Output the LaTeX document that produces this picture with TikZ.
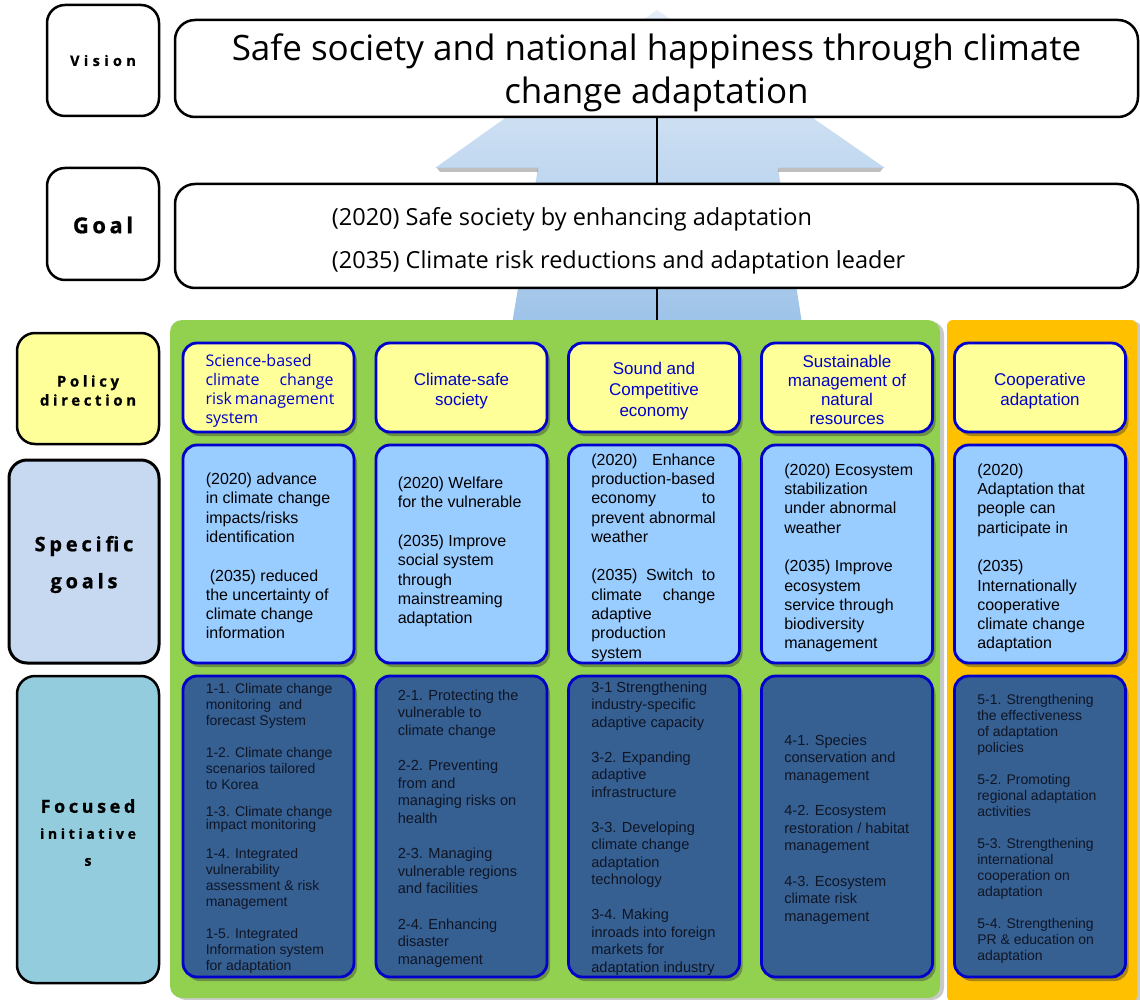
\documentclass[tikz,border=0pt]{standalone}
\usepackage{fontspec}
\setmainfont{Liberation Sans}
\newfontfamily\gothic{Open Sans}
\usetikzlibrary{shadows}

\definecolor{panelgreen}{HTML}{92D050}
\definecolor{panelorange}{HTML}{FFC000}
\definecolor{pyellow}{HTML}{FFFF99}
\definecolor{pblue}{HTML}{0000CC}
\definecolor{sgblue}{HTML}{99CCFF}
\definecolor{fidark}{HTML}{366092}
\definecolor{fitext}{HTML}{0F1525}
\definecolor{lblspec}{HTML}{C6D9F1}
\definecolor{lblfocus}{HTML}{93CDDD}
\definecolor{arrowtop}{HTML}{E6EEF8}
\definecolor{arrowbot}{HTML}{9CC2E8}

% a line stretched to a fixed width (justified)
\newcommand{\jl}[2][124pt]{\makebox[#1][s]{#2}}
% spaced-out heavy label lettering
\newcommand{\lblfont}[2]{\gothic\bfseries\fontsize{#1}{#1}\selectfont\addfontfeature{LetterSpace=#2,FakeBold=0.8}}

\begin{document}
\begin{tikzpicture}[x=1pt,y=-1pt,
  lbl/.style={draw=black, line width=2.5pt, rounded corners=18pt, inner sep=0pt},
  lbltext/.style={inner sep=0pt, align=center},
  topbox/.style={draw=black, line width=2.5pt, rounded corners=20pt, fill=white, inner sep=0pt},
  colbox/.style={draw=pblue, line width=2.8pt, rounded corners=14pt, inner sep=0pt,
     minimum width=171pt,
     drop shadow={shadow xshift=3pt, shadow yshift=-4pt, opacity=0.4, fill=black!80}},
  pdbox/.style={colbox, fill=pyellow, minimum height=89pt},
  sgbox/.style={colbox, fill=sgblue, minimum height=218pt},
  fibox/.style={colbox, fill=fidark, minimum height=301pt},
  pdtext/.style={inner sep=0pt, align=center, text=pblue, font=\fontsize{17}{20}\selectfont},
  sgtext/.style={inner sep=0pt, align=left, anchor=west, text=black, font=\fontsize{16}{19.3}\selectfont},
  fitext/.style={inner sep=0pt, align=left, anchor=west, text=fitext},
  panel/.style={inner sep=0pt,
     drop shadow={shadow xshift=4pt, shadow yshift=-2pt, opacity=0.3, fill=black!70}},
  link/.style={draw=black, line width=2pt}
]
\useasboundingbox (0,0) rectangle (1140,1000);

% large upward arrow behind the top rows
\shade[top color=arrowtop, bottom color=arrowbot]
  (657,10) -- (885,168) -- (778,168) -- (803,330) -- (511,330) -- (538,168) -- (435,168) -- cycle;
\fill[black, opacity=0.25] (437,168) -- (538,168) -- (538,172) -- (440,172) -- cycle;
\fill[black, opacity=0.25] (778,168) -- (883,168) -- (880,172) -- (778,172) -- cycle;

% row labels
\node[lbl, fill=white, minimum width=112pt, minimum height=111pt] (lvision) at (103,60.5) {};
\node[lbltext] (lvisiont) at (lvision.center) {\lblfont{14.5}{30}Vision};
\node[lbl, fill=white, minimum width=112pt, minimum height=112pt] (lgoal) at (103,224) {};
\node[lbltext] (lgoalt) at ([yshift=-1pt]lgoal.center) {\lblfont{22}{16}Goal};
\node[lbl, fill=pyellow, minimum width=142pt, minimum height=111pt] (lpolicy) at (88,388.5) {};
\node[lbltext] (lpolicyt) at ([yshift=-2pt]lpolicy.center)
  {\lblfont{15}{24}Policy\\[3pt] \lblfont{15}{24}direction};
\node[lbl, fill=lblspec, line width=3pt, minimum width=150pt, minimum height=203pt] (lspec) at (84,561.5) {};
\node[lbltext] (lspect) at ([yshift=-3pt]lspec.center)
  {\lblfont{20}{19}Specific\\[16pt] \lblfont{20}{19}goals};
\node[lbl, fill=lblfocus, minimum width=142pt, minimum height=307pt] (lfocus) at (88,829.5) {};
\node[lbltext] (lfocust) at ([yshift=-3pt]lfocus.center)
  {\lblfont{18}{20}Focused\\[14pt] \lblfont{14}{26}initiative\\[15pt] \lblfont{14}{26}s};

% vision and goal
\node[topbox, minimum width=963pt, minimum height=97pt] (vis) at (656.5,68.5) {};
\node[inner sep=0pt, align=center, font=\gothic\fontsize{35}{43}\selectfont] (vist)
  at ([yshift=-4pt]vis.center)
  {Safe society and national happiness through climate\\ change adaptation};
\node[topbox, minimum width=963pt, minimum height=104pt] (goal) at (656.5,236) {};
\node[inner sep=0pt, anchor=west, align=left, font=\gothic\fontsize{23.5}{43}\selectfont] (goalt)
  at ([xshift=158pt, yshift=-5pt]goal.west)
  {(2020) Safe society by enhancing adaptation\\ (2035) Climate risk reductions and adaptation leader};

% background panels
\node[panel, fill=panelgreen, rounded corners=12pt, minimum width=770pt, minimum height=678pt] (green) at (555,659) {};
\node[panel, fill=panelorange, rounded corners=6pt, minimum width=190pt, minimum height=682pt] (orange) at (1042,661) {};

\draw[link] (vis.south) -- (goal.north);
\draw[link] (goal.south) -- (goal.south |- green.north);

% policy direction row
\node[pdbox] (p1) at (268.5,387.5) {};
\node[pdbox] (p2) at (461.5,387.5) {};
\node[pdbox] (p3) at (654,387.5) {};
\node[pdbox] (p4) at (847,387.5) {};
\node[pdbox] (p5) at (1040,387.5) {};

\node[pdtext, align=left, font=\gothic\fontsize{16}{19}\selectfont] (p1t) at ([xshift=1pt, yshift=-3pt]p1.center)
  {Science-based\\ \jl[128pt]{climate change}\\ \jl[128pt]{risk management}\\ system};
\node[pdtext] (p2t) at ([yshift=-3.5pt]p2.center) {Climate-safe\\ society};
\node[pdtext, font=\fontsize{17}{21}\selectfont] (p3t) at ([yshift=-3.5pt]p3.center) {Sound and\\ Competitive\\ economy};
\node[pdtext, font=\fontsize{17}{19}\selectfont] (p4t) at ([yshift=-2pt]p4.center) {Sustainable\\ management of\\ natural\\ resources};
\node[pdtext] (p5t) at ([yshift=-3.5pt]p5.center) {Cooperative\\ adaptation};

% specific goals row
\node[sgbox] (s1) at (268.5,554) {};
\node[sgbox] (s2) at (461.5,554) {};
\node[sgbox] (s3) at (654,554) {};
\node[sgbox] (s4) at (847,554) {};
\node[sgbox] (s5) at (1040,554) {};

\node[sgtext] (s1t) at ([xshift=24pt, yshift=-2pt]s1.west)
  {(2020) advance\\ in climate change\\ impacts/risks\\ identification\\[19.3pt]
   \hspace{4pt}(2035) reduced\\ the uncertainty of\\ climate change\\ information};
\node[sgtext] (s2t) at ([xshift=23pt, yshift=2pt]s2.west)
  {(2020) Welfare\\ for the vulnerable\\[19.3pt] (2035) Improve\\ social system\\ through\\ mainstreaming\\ adaptation};
\node[sgtext] (s3t) at ([xshift=24pt, yshift=-3.5pt]s3.west)
  {\jl{(2020) Enhance}\\ production-based\\ \jl{economy to}\\ prevent abnormal\\ weather\\[19.3pt]
   \jl{(2035) Switch to}\\ \jl{climate change}\\ adaptive\\ production\\ system};
\node[sgtext] (s4t) at ([xshift=24pt, yshift=-4pt]s4.west)
  {(2020) Ecosystem\\ stabilization\\ under abnormal\\ weather\\[19.3pt]
   (2035) Improve\\ ecosystem\\ service through\\ biodiversity\\ management};
\node[sgtext] (s5t) at ([xshift=24pt, yshift=-4pt]s5.west)
  {(2020)\\ Adaptation that\\ people can\\ participate in\\[19.3pt]
   (2035)\\ Internationally\\ cooperative\\ climate change\\ adaptation};

% focused initiatives row
\node[fibox] (f1) at (268.5,826.5) {};
\node[fibox] (f2) at (461.5,826.5) {};
\node[fibox] (f3) at (654,826.5) {};
\node[fibox] (f4) at (847,826.5) {};
\node[fibox] (f5) at (1040,826.5) {};

\node[fitext, font=\fontsize{14}{16}\selectfont] (f1t) at ([xshift=24pt, yshift=-2pt]f1.west)
  {1-1. Climate change\\ monitoring~ and\\ forecast System\\[16pt]
   1-2. Climate change\\ scenarios tailored\\ to Korea\\[11pt]
   1-3. Climate change\\[-3pt] impact monitoring\\[13pt]
   1-4. Integrated\\ vulnerability\\ assessment \& risk\\ management\\[16pt]
   1-5. Integrated\\ Information system\\ for adaptation};
\node[fitext, font=\fontsize{14.6}{17.6}\selectfont] (f2t) at ([xshift=23pt, yshift=-2pt]f2.west)
  {2-1. Protecting the\\ vulnerable to\\ climate change\\[17.6pt]
   2-2. Preventing\\ from and\\ managing risks on\\ health\\[17.6pt]
   2-3. Managing\\ vulnerable regions\\ and facilities\\[17.6pt]
   2-4. Enhancing\\ disaster\\ management};
\node[fitext, font=\fontsize{14.6}{17.5}\selectfont] (f3t) at ([xshift=24pt, yshift=-2pt]f3.west)
  {3-1 Strengthening\\ industry-specific\\ adaptive capacity\\[17.5pt]
   3-2. Expanding\\ adaptive\\ infrastructure\\[17.5pt]
   3-3. Developing\\ climate change\\ adaptation\\ technology\\[17.5pt]
   3-4. Making\\ inroads into foreign\\ markets for\\ adaptation industry};
\node[fitext, font=\fontsize{14.6}{17.6}\selectfont] (f4t) at ([xshift=24pt, yshift=-3pt]f4.west)
  {4-1. Species\\ conservation and\\ management\\[17.6pt]
   4-2. Ecosystem\\ restoration / habitat\\ management\\[17.6pt]
   4-3. Ecosystem\\ climate risk\\ management};
\node[fitext, font=\fontsize{14}{16}\selectfont] (f5t) at ([xshift=24pt, yshift=-2pt]f5.west)
  {5-1. Strengthening\\ the effectiveness\\ of adaptation\\ policies\\[16pt]
   5-2. Promoting\\ regional adaptation\\ activities\\[16pt]
   5-3. Strengthening\\ international\\ cooperation on\\ adaptation\\[16pt]
   5-4. Strengthening\\ PR \& education on\\ adaptation};
\end{tikzpicture}
\end{document}
